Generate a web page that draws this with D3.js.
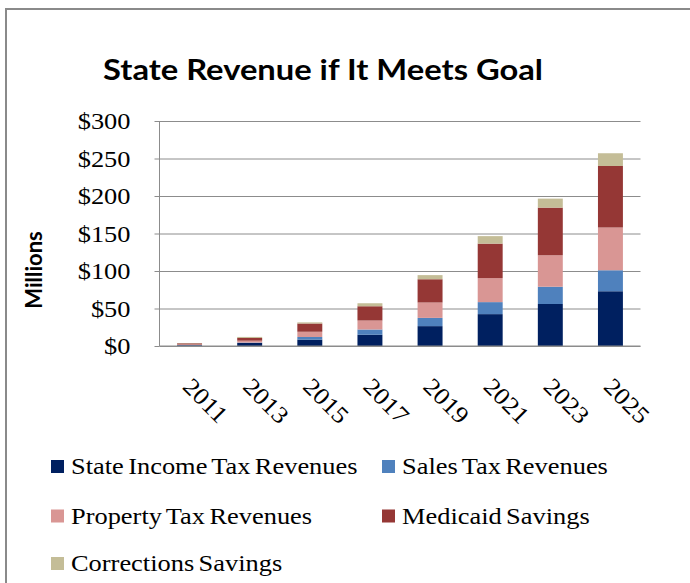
<!DOCTYPE html>
<html>
<head>
<meta charset="utf-8">
<script src="https://cdn.jsdelivr.net/npm/d3@7"></script>
<style>
  html, body { margin: 0; padding: 0; background: #fff; }
  svg { display: block; }
  .serif { font-family: "Liberation Serif", "Times New Roman", "DejaVu Serif", serif; font-size: 24px; fill: #000; }
  .axis path { display: none; }
  .axis line { stroke: #8c8c8c; }
  .grid line { stroke: #8c8c8c; }
  .grid path { display: none; }
</style>
</head>
<body>
<svg id="chart" width="690" height="583"></svg>
<script>
// Chart values
const years = ['2011', '2013', '2015', '2017', '2019', '2021', '2023', '2025'];
const seriesNames = ['State Income Tax Revenues', 'Sales Tax Revenues', 'Property Tax Revenues', 'Medicaid Savings', 'Corrections Savings'];
const incomeTax   = [1.0, 4.0, 8.5, 15, 26.5, 42.5, 56, 73];
const salesTax    = [0.3, 0.6, 3.5, 7, 11, 16, 23, 28];
const propertyTax = [0.8, 2.5, 7, 12, 20.5, 32, 42, 57];
const medicaid    = [1.5, 3.6, 11, 19, 31, 46, 63.5, 82];
const corrections = [0.4, 1.4, 1.5, 4, 5.5, 10, 12, 17];
const yTicks = [0, 50, 100, 150, 200, 250, 300];

const colors = ['#002060', '#4f81bd', '#d99694', '#953735', '#c4bd97'];
const stretch = 1.1; // reference text is slightly wide
const serifFont = '"Liberation Serif", "Times New Roman", serif';

const config = {
  margin: { top: 121, left: 159.5, right: 49.5 },
  plotHeight: 225
};

const svg = d3.select('#chart');

// frame of the chart box
svg.append('line').attr('x1', 5).attr('x2', 690).attr('y1', 9).attr('y2', 9)
    .attr('stroke', '#8a8a8a').attr('stroke-width', 2);
svg.append('line').attr('x1', 6).attr('x2', 6).attr('y1', 9).attr('y2', 583)
    .attr('stroke', '#8a8a8a').attr('stroke-width', 2);

const width = 690 - config.margin.left - config.margin.right;
const chart = svg.append('g')
    .attr('transform', `translate(${config.margin.left},${config.margin.top})`);

const x = d3.scaleBand()
    .domain(years)
    .range([0, width])
    .paddingInner(0.585)
    .paddingOuter(0.2925);

const y = d3.scaleLinear()
    .domain([0, 300])
    .range([config.plotHeight, 0]);

// gridlines
chart.append('g')
    .attr('class', 'grid')
    .call(d3.axisLeft(y).tickValues(yTicks).tickSize(-width).tickFormat(''));

// y axis line + ticks + labels
chart.append('line').attr('x1', 0).attr('x2', 0).attr('y1', 0).attr('y2', config.plotHeight)
    .attr('stroke', '#8c8c8c');
const yAxis = chart.append('g')
    .attr('class', 'axis')
    .call(d3.axisLeft(y).tickValues(yTicks).tickSize(5).tickPadding(24).tickFormat(d => '$' + d));
yAxis.attr('font-size', 24).attr('font-family', serifFont);
yAxis.selectAll('text').attr('class', 'serif');

// stacked bars
const table = years.map((yr, i) => ({
  year: yr,
  s0: incomeTax[i], s1: salesTax[i], s2: propertyTax[i], s3: medicaid[i], s4: corrections[i]
}));
const stack = d3.stack().keys(['s0', 's1', 's2', 's3', 's4'])(table);

chart.selectAll('.layer')
    .data(stack)
    .enter().append('g')
    .attr('class', 'layer')
    .attr('fill', (d, i) => colors[i])
    .selectAll('rect')
    .data(d => d)
    .enter().append('rect')
    .attr('x', d => x(d.data.year))
    .attr('width', x.bandwidth())
    .attr('y', d => y(d[1]))
    .attr('height', d => y(d[0]) - y(d[1]));

// baseline
chart.append('line').attr('x1', 0).attr('x2', width)
    .attr('y1', y(0)).attr('y2', y(0)).attr('stroke', '#8c8c8c');

// rotated year labels
chart.selectAll('.year')
    .data(years)
    .enter().append('text')
    .attr('class', 'serif year')
    .attr('font-family', serifFont)
    .attr('text-anchor', 'start')
    .attr('transform', d => `translate(${x(d) + x.bandwidth() / 2 - 8},${y(0) + 42}) rotate(45)`)
    .text(d => d);

// title
svg.append('text')
    .attr('x', 103).attr('y', 80)
    .attr('font-family', 'Lato, "Open Sans", sans-serif')
    .attr('font-weight', 700)
    .attr('font-size', 29)
    .attr('textLength', 440)
    .attr('lengthAdjust', 'spacingAndGlyphs')
    .text('State Revenue if It Meets Goal');

// y axis title
svg.append('text')
    .attr('transform', 'translate(42,270) rotate(-90)')
    .attr('text-anchor', 'middle')
    .attr('font-family', 'Lato, "Open Sans", sans-serif')
    .attr('font-weight', 700)
    .attr('font-size', 22)
    .text('Millions');

// legend
const legendPos = [[51, 460], [382, 460], [51, 509.5], [382, 509.5], [51, 557]];
const legend = svg.selectAll('.legend')
    .data(seriesNames)
    .enter().append('g')
    .attr('class', 'legend')
    .attr('transform', (d, i) => `translate(${legendPos[i][0]},${legendPos[i][1]})`);
legend.append('rect')
    .attr('width', 13).attr('height', 13)
    .attr('fill', (d, i) => colors[i]);
legend.append('text')
    .attr('class', 'serif')
    .attr('font-family', serifFont)
    .attr('word-spacing', -2)
    .attr('x', 20).attr('y', 14)
    .text(d => d);

// stretch serif text a little to match the reference
svg.selectAll('text.serif').each(function() {
  const len = this.getComputedTextLength();
  d3.select(this).attr('textLength', len * stretch).attr('lengthAdjust', 'spacingAndGlyphs');
});
</script>
</body>
</html>
